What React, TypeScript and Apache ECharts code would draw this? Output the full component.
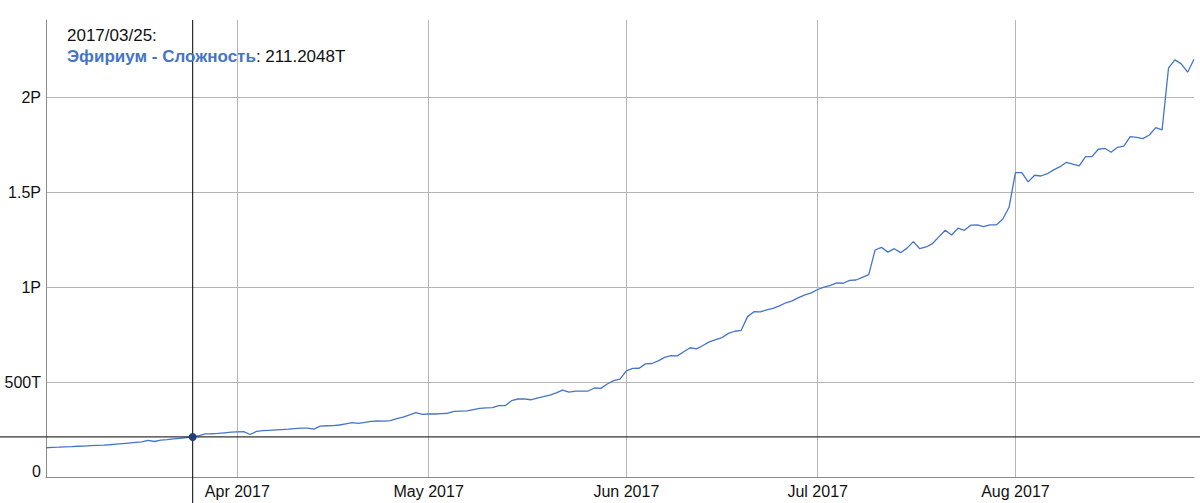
import React, { useEffect, useRef } from "react";
import * as echarts from "echarts";

// Daily difficulty values in T (terahash), Mar 2 2017 .. Aug 29 2017
const startYear = 2017;
const startMonth = 2; // March (0-based)
const startDay = 2;

const marValues = [154, 156, 157, 159, 160, 162, 163, 165, 167, 168, 170, 173, 176, 179, 182, 185, 193, 187, 194, 197, 201, 204, 207, 211.2048, 218, 227, 228, 230, 233, 236];
const aprValues = [238, 239, 224, 240, 244, 246, 248, 250, 252, 255, 258, 258, 252, 268, 270, 271, 274, 280, 286, 283, 288, 293, 295, 294, 297, 307, 315, 327, 339, 330];
const mayValues = [332, 332, 334, 336, 346, 347, 348, 355, 362, 364, 366, 376, 376, 402, 411, 412, 407, 415, 423, 432, 443, 458, 447, 453, 453, 453, 469, 467, 490, 508, 516];
const junValues = [559, 572, 573, 596, 598, 612, 630, 639, 638, 660, 681, 675, 693, 712, 724, 735, 757, 768, 773, 845, 871, 870, 880, 888, 902, 918, 928, 945, 960, 970];
const julValues = [988, 1000, 1010, 1023, 1021, 1036, 1038, 1052, 1066, 1196, 1210, 1185, 1203, 1182, 1206, 1240, 1203, 1212, 1230, 1265, 1300, 1275, 1311, 1300, 1327, 1328, 1319, 1328, 1328, 1358, 1421];
const augValues = [1604, 1604, 1555, 1590, 1586, 1598, 1618, 1635, 1658, 1648, 1639, 1688, 1688, 1727, 1732, 1711, 1737, 1744, 1793, 1790, 1783, 1802, 1841, 1829, 2154, 2198, 2177, 2133, 2201];

const yTickLabels: Record<string, string> = {
  "0": "0",
  "500000000000000": "500T",
  "1000000000000000": "1P",
  "1500000000000000": "1.5P",
  "2000000000000000": "2P",
};
const monthNames = ["Jan", "Feb", "Mar", "Apr", "May", "Jun", "Jul", "Aug", "Sep", "Oct", "Nov", "Dec"];

const seriesName = "Эфириум - Сложность";
const hoverIndex = 23; // 2017/03/25
const hoverDateLabel = "2017/03/25:";
const hoverValueLabel = "211.2048T";

const FONT = "'Liberation Sans', Helvetica, Arial, sans-serif";
const LINE_COLOR = "#4674c6";

export default function App() {
  const ref = useRef<HTMLDivElement>(null);

  useEffect(() => {
    document.body.style.margin = "0";
    if (!ref.current) return;
    const chart = echarts.init(ref.current, undefined, { renderer: "svg" });

    const allValues = [...marValues, ...aprValues, ...mayValues, ...junValues, ...julValues, ...augValues];
    const dates = allValues.map((_, i) => new Date(startYear, startMonth, startDay + i).getTime());
    const data = allValues.map((v, i) => [dates[i], v * 1e12]);

    chart.setOption({
      animation: false,
      grid: { left: 46, right: 6, top: 20, bottom: 26, containLabel: false },
      xAxis: {
        type: "time",
        min: dates[0],
        max: dates[dates.length - 1],
        splitNumber: 6,
        axisLine: { show: true, lineStyle: { color: "#8c8c8c", width: 1 } },
        axisTick: { show: false },
        axisLabel: {
          color: "#111",
          fontSize: 16,
          fontFamily: FONT,
          margin: 6,
          hideOverlap: false,
          formatter: (v: number) => {
            const d = new Date(v);
            return monthNames[d.getMonth()] + " " + d.getFullYear();
          },
        },
        splitLine: {
          show: true,
          showMinLine: false,
          showMaxLine: false,
          lineStyle: { color: "#b5b5b5", width: 1 },
        },
      },
      yAxis: {
        type: "value",
        min: 0,
        max: 2.408e15,
        interval: 5e14,
        axisLine: { show: true, lineStyle: { color: "#8c8c8c", width: 1 } },
        axisTick: { show: false },
        axisLabel: {
          color: "#111",
          fontSize: 16,
          fontFamily: FONT,
          margin: 5,
          showMaxLabel: false,
          formatter: (v: number) => {
            const key = String(Math.round(v));
            const t = yTickLabels[key];
            if (t === undefined) return "";
            if (v === 0) return "{z|0}";
            return t;
          },
          rich: {
            z: { fontSize: 16, fontFamily: FONT, color: "#111", padding: [0, 0, 12, 0] },
          },
        },
        splitLine: {
          show: true,
          showMinLine: false,
          showMaxLine: false,
          lineStyle: { color: "#b5b5b5", width: 1 },
        },
      },
      series: [
        {
          name: seriesName,
          type: "line",
          data,
          showSymbol: false,
          symbol: "none",
          lineStyle: { color: LINE_COLOR, width: 1.3 },
          itemStyle: { color: LINE_COLOR },
          z: 3,
        },
      ],
    });

    const [px, py] = chart.convertToPixel({ gridIndex: 0 }, data[hoverIndex]) as number[];
    const W = 1200;
    const H = 503;

    chart.setOption({
      graphic: [
        {
          type: "line",
          shape: { x1: px, y1: 20, x2: px, y2: H },
          style: { stroke: "#000", lineWidth: 1 },
          z: 10,
        },
        {
          type: "line",
          shape: { x1: 0, y1: py, x2: W, y2: py },
          style: { stroke: "#000", lineWidth: 1 },
          z: 10,
        },
        {
          type: "circle",
          shape: { cx: px, cy: py, r: 4 },
          style: { fill: "#1f3f7e" },
          z: 11,
        },
        {
          type: "text",
          x: 67,
          y: 35,
          style: {
            text: hoverDateLabel,
            fill: "#111",
            font: `17px ${FONT}`,
            textVerticalAlign: "middle",
          },
          z: 12,
        },
        {
          type: "text",
          x: 67,
          y: 56,
          style: {
            text: `{n|${seriesName}}{v|: ${hoverValueLabel}}`,
            fill: "#111",
            font: `17px ${FONT}`,
            textVerticalAlign: "middle",
            rich: {
              n: { fill: LINE_COLOR, fontWeight: "bold", fontSize: 17, fontFamily: FONT },
              v: { fill: "#111", fontSize: 17, fontFamily: FONT },
            },
          },
          z: 12,
        },
      ],
    });

    return () => chart.dispose();
  }, []);

  return <div ref={ref} style={{ width: 1200, height: 503 }} />;
}
